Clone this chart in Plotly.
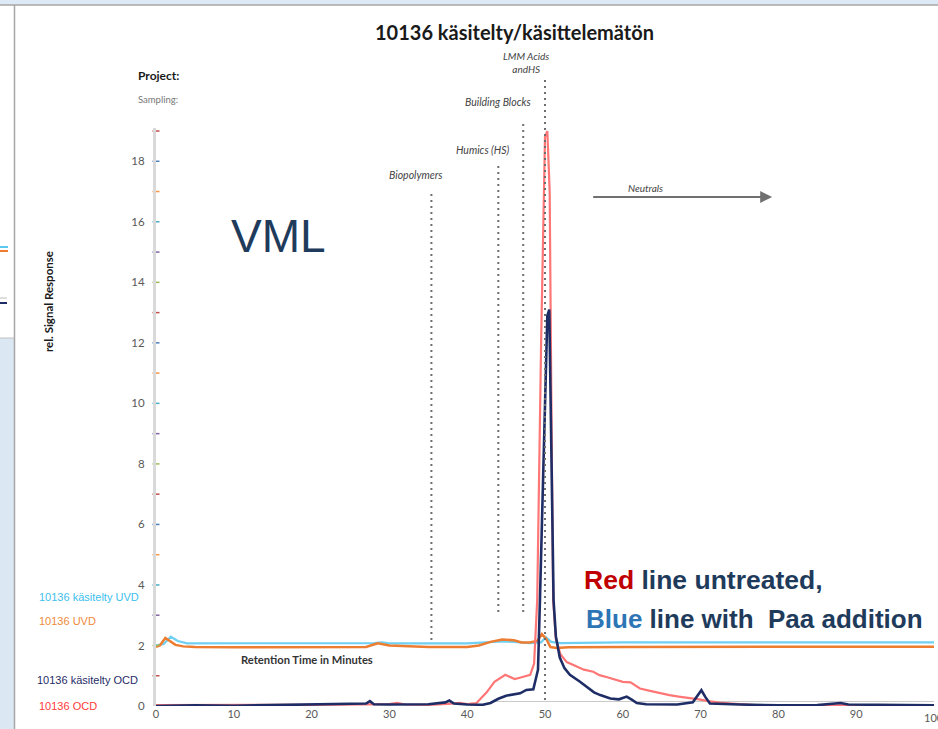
import plotly.graph_objects as go

# ---------------- data ----------------
uvd_x = [0, 0.5, 1.2, 1.8, 2.5, 3.5, 5, 10, 20, 27, 28.5, 30, 35, 40, 41.5, 43, 44.5, 46, 47, 48, 49, 49.6, 50.2, 50.7, 51.5, 53, 60, 70, 80, 90, 100]
uvd_y = [1.96, 2.0, 2.25, 2.15, 2.02, 1.97, 1.95, 1.94, 1.94, 1.95, 2.07, 2.0, 1.95, 1.95, 2.0, 2.12, 2.2, 2.17, 2.1, 2.1, 2.15, 2.38, 2.2, 1.95, 1.92, 1.94, 1.95, 1.96, 1.95, 1.96, 1.96]

kuvd_x = [0, 1.0, 1.9, 2.8, 4, 10, 20, 28, 29, 30, 40, 42, 44, 46, 48, 49.5, 50.1, 50.8, 52, 60, 70, 80, 90, 100]
kuvd_y = [2.0, 2.05, 2.29, 2.15, 2.07, 2.07, 2.07, 2.08, 2.1, 2.07, 2.07, 2.1, 2.13, 2.12, 2.08, 2.1, 2.28, 2.12, 2.08, 2.1, 2.1, 2.1, 2.1, 2.1]

ocd_x = [0, 10, 20, 30, 31, 32, 35, 38, 39, 40, 41.2, 42.5, 43.5, 44.9, 46.1, 47, 48.1, 48.6, 49.0, 49.5, 50.0, 50.3, 50.6, 50.85, 51.05, 51.4, 52, 52.8, 54, 55, 56.2, 57, 58, 59, 60, 61, 62.2, 63.5, 64.8, 66, 67.2, 68.5, 69.8, 71, 72.4, 74, 75, 77, 80, 90, 100]
ocd_y = [0.03, 0.03, 0.04, 0.06, 0.1, 0.05, 0.04, 0.08, 0.1, 0.06, 0.1, 0.45, 0.8, 1.03, 0.89, 0.95, 1.03, 1.4, 3.5, 12, 18.8, 19.0, 17, 9, 3.5, 2.2, 1.7, 1.45, 1.3, 1.2, 1.13, 1.02, 0.95, 0.87, 0.8, 0.78, 0.58, 0.5, 0.42, 0.36, 0.31, 0.27, 0.22, 0.16, 0.11, 0.08, 0.06, 0.03, 0.02, 0.02, 0.03]

kocd_x = [0, 5, 10, 15, 20, 23, 27, 27.5, 28, 30, 35, 37.2, 37.7, 38.3, 40, 42, 43, 44, 45, 46.8, 47.6, 48.5, 49.1, 49.35, 49.9, 50.3, 50.55, 50.85, 51.1, 51.4, 51.9, 52.5, 53.2, 54.5, 55.5, 56.3, 57.1, 58.4, 59.5, 60.5, 61.2, 61.8, 63, 65, 67, 69, 69.6, 70.1, 70.6, 71.2, 75, 80, 85, 88, 89, 95, 100]
kocd_y = [0.0, 0.02, 0.01, 0.03, 0.04, 0.06, 0.08, 0.16, 0.06, 0.05, 0.06, 0.12, 0.18, 0.08, 0.05, 0.04, 0.1, 0.24, 0.34, 0.42, 0.53, 0.55, 1.2, 3.5, 9, 12.9, 13.1, 8, 3.5, 2.3, 1.6, 1.25, 1.03, 0.8, 0.6, 0.45, 0.36, 0.25, 0.22, 0.31, 0.2, 0.1, 0.06, 0.05, 0.05, 0.12, 0.35, 0.52, 0.3, 0.08, 0.05, 0.02, 0.03, 0.1, 0.05, 0.02, 0.02]

base_x = [43.3, 100]
base_y = [0.15, 0.15]

minor_vals = list(range(1, 20))
minor_cols = ["#c0504d", "#9bbb59", "#8064a2", "#4bacc6", "#f79646", "#4f81bd",
              "#c0504d", "#9bbb59", "#8064a2", "#4bacc6", "#f79646", "#4f81bd",
              "#c0504d", "#9bbb59", "#8064a2", "#4bacc6", "#f79646", "#4f81bd", "#c0504d"]

x_ticks = [0, 10, 20, 30, 40, 50, 60, 70, 80, 90]
x_last_tick = 100
y_ticks = [0, 2, 4, 6, 8, 10, 12, 14, 16, 18]

region_names = ["Biopolymers", "Humics (HS)", "Building Blocks", "LMM Acids<br>andHS"]
region_x = [35.4, 44.0, 47.2, 50.0]

# ---------------- layout geometry (pixels) ----------------
W, H = 938, 729
L, R, T, B = 156, 4, 128, 23
X0, X1 = L, W - R
Y0, Y1 = H - B, T


def px(x):
    return (x - X0) / (X1 - X0)


def py(y):
    return (Y0 - y) / (Y0 - Y1)


fig = go.Figure()

fig.add_trace(go.Scatter(x=base_x, y=base_y, mode="lines",
                         line=dict(color="#c8c8c8", width=1), hoverinfo="skip"))
fig.add_trace(go.Scatter(x=kuvd_x, y=kuvd_y, mode="lines", name="10136 käsitelty UVD",
                         line=dict(color="#6fd0f2", width=2.2)))
fig.add_trace(go.Scatter(x=uvd_x, y=uvd_y, mode="lines", name="10136 UVD",
                         line=dict(color="#ed7d31", width=2.5)))
fig.add_trace(go.Scatter(x=ocd_x, y=ocd_y, mode="lines", name="10136 OCD",
                         line=dict(color="#ff7676", width=2.2)))
fig.add_trace(go.Scatter(x=kocd_x, y=kocd_y, mode="lines", name="10136 käsitelty OCD",
                         line=dict(color="#1f2d66", width=2.6)))
fig.add_trace(go.Scatter(x=[0] * len(minor_vals), y=minor_vals, mode="markers",
                         marker=dict(symbol="line-ew", size=5,
                                     line=dict(color=minor_cols, width=1.5)),
                         cliponaxis=False, hoverinfo="skip"))

shapes = []
# slide fragments around the chart
shapes.append(dict(type="rect", xref="paper", yref="paper", x0=px(0), x1=px(W), y0=py(5), y1=py(0),
                   fillcolor="#dde9f4", line=dict(width=0), layer="below"))
shapes.append(dict(type="rect", xref="paper", yref="paper", x0=px(0), x1=px(14), y0=py(H), y1=py(338),
                   fillcolor="#dbe7f3", line=dict(width=0), layer="below"))
shapes.append(dict(type="line", xref="paper", yref="paper", x0=px(0), x1=px(W), y0=py(5), y1=py(5),
                   line=dict(color="#a6a6a6", width=1.5)))
shapes.append(dict(type="line", xref="paper", yref="paper", x0=px(14.5), x1=px(14.5), y0=py(5), y1=py(H),
                   line=dict(color="#a6a6a6", width=1.5)))
shapes.append(dict(type="line", xref="paper", yref="paper", x0=px(0), x1=px(14), y0=py(338), y1=py(338),
                   line=dict(color="#c0c0c0", width=1)))
shapes.append(dict(type="line", xref="paper", yref="paper", x0=px(0), x1=px(8), y0=py(247), y1=py(247),
                   line=dict(color="#5bc8f0", width=2)))
shapes.append(dict(type="line", xref="paper", yref="paper", x0=px(0), x1=px(8), y0=py(251), y1=py(251),
                   line=dict(color="#ed7d31", width=2)))
shapes.append(dict(type="line", xref="paper", yref="paper", x0=px(0), x1=px(7), y0=py(298), y1=py(298),
                   line=dict(color="#bfbfbf", width=1)))
shapes.append(dict(type="line", xref="paper", yref="paper", x0=px(0), x1=px(7), y0=py(303), y1=py(303),
                   line=dict(color="#1f2d66", width=2)))

# dotted region markers
tops = [190, 163, 120, 80]
bots = [640, 612, 612, 700]
for xv, t, b in zip(region_x, tops, bots):
    shapes.append(dict(type="line", xref="x", yref="paper", x0=xv, x1=xv, y0=py(b), y1=py(t),
                       line=dict(color="#6e6e6e", width=2, dash="2px,4px")))

annots = []


def txt(text, x, y, size, color="#333", xanchor="left", yanchor="middle", family="Lato", angle=0):
    annots.append(dict(text=text, x=px(x), y=py(y), xref="paper", yref="paper", showarrow=False,
                       xanchor=xanchor, yanchor=yanchor, textangle=angle,
                       font=dict(size=size, color=color, family=family)))


txt("<b>10136 käsitelty/käsittelemätön</b>", 514, 32, 20, "#1a1a1a", xanchor="center")
txt("<b>Project:</b>", 136, 75, 12, "#1a1a1a")
txt("Sampling:", 136, 100, 9.5, "#777")
txt("<i>Biopolymers</i>", 416, 175, 10.5, "#444", xanchor="center")
txt("<i>Humics (HS)</i>", 483, 150, 10.5, "#444", xanchor="center")
txt("<i>Building Blocks</i>", 498, 102, 10.5, "#444", xanchor="center")
txt("<i>LMM Acids<br>andHS</i>", 501, 62, 10, "#444")
txt("<i>Neutrals</i>", 645, 188, 10, "#444", xanchor="center")
txt("VML", 278, 236, 46, "#1f3b5c", xanchor="center", family="Liberation Sans")
txt("<b>Retention Time in Minutes</b>", 239, 659, 11.2, "#333")
txt("<b>rel. Signal Response</b>", 48, 301, 11.5, "#1a1a1a", xanchor="center", angle=-90)
txt("10136 käsitelty UVD", 37, 597, 11, "#40c0ee", family="Liberation Sans")
txt("10136 UVD", 37, 621, 11, "#ee8a3c", family="Liberation Sans")
txt("10136 käsitelty OCD", 35, 680, 11, "#1f2d66", family="Liberation Sans")
txt("10136 OCD", 37, 706, 11, "#ff3b3b", family="Liberation Sans")
txt("<b><span style='color:#c00000'>Red</span> line untreated,</b>", 582, 580, 26.5, "#1f3b5c",
    family="Liberation Sans")
txt("<b><span style='color:#2e75b6'>Blue</span> line with  Paa addition</b>", 584, 619, 26, "#1f3b5c",
    family="Liberation Sans")

# last x tick label (partially cut by the window edge, as in the reference)
annots.append(dict(text=str(x_last_tick), x=x_last_tick, y=0, xref="x", yref="paper", showarrow=False,
                   xanchor="center", yanchor="top", yshift=-3,
                   font=dict(size=11, color="#595959", family="Lato")))

# Neutrals arrow
annots.append(dict(x=79.2, y=16.82, ax=56.0, ay=16.82, xref="x", yref="y", axref="x", ayref="y",
                   text="", showarrow=True, arrowhead=2, arrowsize=1.2, arrowwidth=2,
                   arrowcolor="#707070"))

fig.update_layout(
    width=W, height=H,
    margin=dict(l=L, r=R, t=T, b=B, pad=0),
    paper_bgcolor="white", plot_bgcolor="white",
    showlegend=False,
    shapes=shapes, annotations=annots,
    font=dict(family="Lato", color="#595959"),
    xaxis=dict(range=[0, 100], tickvals=x_ticks, showgrid=False, zeroline=False,
               showline=False, ticks="", tickfont=dict(size=11, color="#595959"),
               fixedrange=True),
    yaxis=dict(range=[0, 19.1], tickvals=y_ticks, showgrid=False, zeroline=False,
               showline=True, linecolor="#d9d9d9", linewidth=3, ticks="",
               ticklabelstandoff=6, tickfont=dict(size=11.5, color="#595959"),
               fixedrange=True),
)

fig.write_html("out.html")
